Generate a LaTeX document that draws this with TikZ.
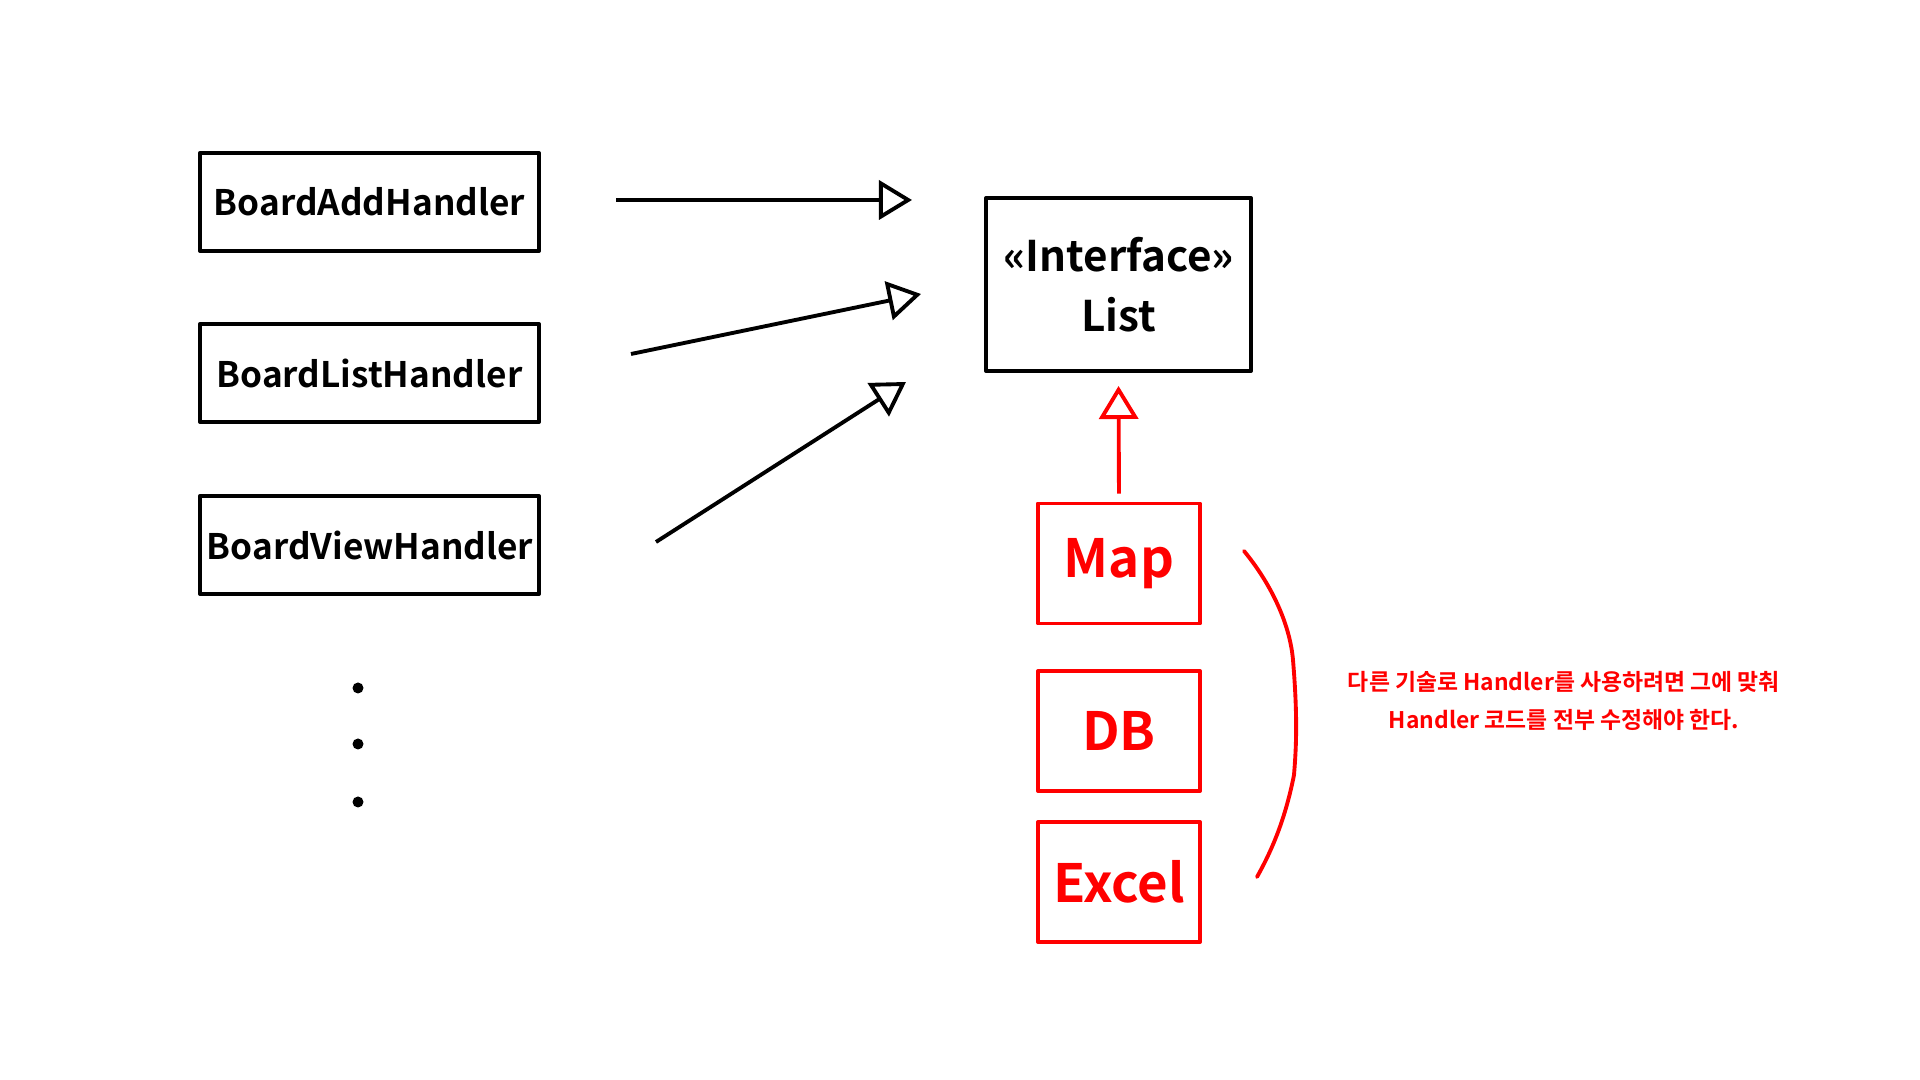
\documentclass[tikz,border=0pt]{standalone}
\usepackage{fontspec}
\setmainfont{Noto Sans CJK KR}[BoldFont={* Bold}]
\usetikzlibrary{arrows.meta}

\begin{document}
\begin{tikzpicture}[x=0.01cm, y=-0.01cm, line width=1.1pt, line join=round,
    handler/.style={draw, text width=3.25cm, inner xsep=0.07cm, align=center,
      minimum height=0.98cm, font=\fontsize{10}{12}\selectfont\bfseries},
    impl/.style={draw, text=red, minimum width=1.62cm, minimum height=1.2cm,
      font=\fontsize{15}{18}\selectfont\bfseries},
    realize/.style={-{Triangle[open, length=3.3mm, width=3.9mm]}}]
  \useasboundingbox (0,0) rectangle (1920,1080);
  % las clases Handler
  \node[handler] (add)  at (369.5,202) {BoardAddHandler};
  \node[handler] (list) at (369.5,373) {BoardListHandler};
  \node[handler] (view) at (369.5,545) {BoardViewHandler};
  % los puntos
  \fill (358,688) circle (5.5) (358,744) circle (5.5) (358,802) circle (5.5);
  % la interfaz
  \node[draw, minimum width=2.65cm, minimum height=1.73cm, align=center,
    font=\fontsize{12}{17}\selectfont\bfseries] (iface) at (1118.5,284.5)
    {«Interface»\\List};
  % las flechas hacia la interfaz
  \coordinate (a1) at (616,200);  \coordinate (b1) at (912,200);
  \coordinate (a2) at (631,354);  \coordinate (b2) at (921,294);
  \coordinate (a3) at (656,542);  \coordinate (b3) at (906,382);
  \draw[realize] (a1) -- (b1);
  \draw[realize] (a2) -- (b2);
  \draw[realize] (a3) -- (b3);
  % las implementaciones en rojo
  \begin{scope}[red]
    \node[impl] (map)   at (1119,563.5) {Map};
    \node[impl] (db)    at (1119,731)   {DB};
    \node[impl] (excel) at (1119,882)   {Excel};
    \draw[realize, shorten <=0.8mm, shorten >=1.3mm] (map.north) -- (iface.south);
    % la llave
    \draw[line cap=round] (1244,551) .. controls (1272,585) and (1290,625) .. (1293,660)
      .. controls (1298,720) and (1296,750) .. (1294,775)
      .. controls (1285,820) and (1272,850) .. (1257,877);
    \node[font=\fontsize{6.5}{11}\selectfont\bfseries, align=center] (note) at (1564,701)
      {다른 기술로 Handler를 사용하려면 그에 맞춰\\Handler 코드를 전부 수정해야 한다.};
  \end{scope}
\end{tikzpicture}
\end{document}
